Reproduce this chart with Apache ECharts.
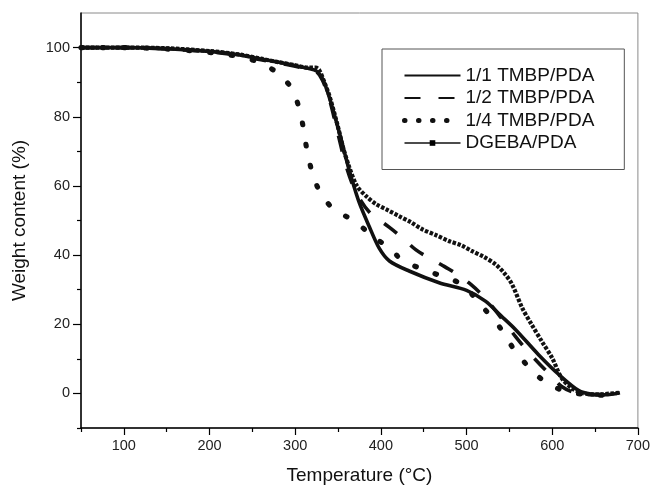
<!DOCTYPE html>
<html>
<head>
<meta charset="utf-8">
<script src="https://cdn.jsdelivr.net/npm/echarts@6/dist/echarts.min.js"></script>
<style>
html,body{margin:0;padding:0;background:#fff;}
#c{width:653px;height:491px;}
</style>
</head>
<body>
<div id="c"></div>
<script>
// ---- data ----
const seriesNames = ['1/1 TMBP/PDA', '1/2 TMBP/PDA', '1/4 TMBP/PDA', 'DGEBA/PDA'];

const temp11 = [50,100,150,200,235,260,280,300,315,325,332,340,352,359,366,375,386,398,410,433,468,500,522,540,557,584,608,631,645,662,679];
const wt11   = [100,100,99.7,98.9,97.9,96.7,95.8,94.8,94,93.2,91,85.5,75,68.3,62,55,48.5,42,38.3,35.4,32,29.8,26.7,22.5,18.5,11.2,5.4,0.8,-0.2,-0.4,0.2];

const temp12 = [50,100,150,200,235,260,280,300,315,325,332,340,350,358,366,376,388,400,410,425,441,456,472,490,505,520,540,557,572,586,600,611,625,640,660,678];
const wt12   = [100,100,99.6,98.8,97.7,96.5,95.6,94.6,93.8,93,90.5,85,75,67,61,56,52,49.8,48,45,41.5,39.2,37,34.3,31.5,28,22,16.5,12,8.3,4.8,2,0.3,-0.3,-0.4,0.1];

const temp14 = [50,100,150,200,235,258,278,295,305,310,314,320,330,347,368,390,410,426,448,470,491,505,520,538,553,570,588,603,620,640,660,678];
const wt14   = [100,100,99.6,98.6,97.4,95.7,92.9,88.5,82.2,76,70,63.8,57.7,52.8,50.1,45.5,42,38.3,36,34,32,29,24.7,19.4,13.6,8.3,4,1.8,0.3,-0.3,-0.5,0];

const tempDG = [50,100,150,200,235,260,280,300,315,324,328,334,340,350,356,363,372,383,394,408,421,435,448,464,480,494,506,520,534,544,553,565,576,588,600,611,623,634,646,660,678];
const wtDG   = [100,100,99.8,99,98,96.8,95.8,94.9,94.2,94.2,93.5,90,86,77,71,65.5,60,57,54.8,53,51.3,49.5,47.5,45.8,44,42.8,41.2,39.5,37.3,34.8,31.6,24.7,19.9,15,10.2,4.4,1.5,0.2,-0.3,-0.2,0.2];

const xMajorTicks = [100,200,300,400,500,600,700];
const xMinorTicks = [50,150,250,350,450,550,650];
const yMajorTicks = [0,20,40,60,80,100];
const yMinorTicks = [-10,10,30,50,70,90];

const FONT = '"Liberation Sans", Arial, Helvetica, sans-serif';
const pairs = (xs, ys) => xs.map((x, i) => [x, ys[i]]);

const chart = echarts.init(document.getElementById('c'), null, {renderer: 'canvas'});

const option = {
  animation: false,
  backgroundColor: '#fff',
  textStyle: {fontFamily: FONT},
  grid: {left: 81, right: 14, top: 13, bottom: 63, show: true, borderColor: '#8a8a8a', borderWidth: 1},
  xAxis: [{
    type: 'value', min: 50, max: 700,
    name: 'Temperature (°C)', nameLocation: 'middle', nameGap: 38,
    nameTextStyle: {fontSize: 19, color: '#111', fontFamily: FONT},
    axisLine: {show: true, onZero: false, lineStyle: {color: '#000', width: 1.5}},
    axisTick: {show: true, inside: false, length: 7, lineStyle: {color: '#000', width: 1.2}, customValues: xMajorTicks},
    axisLabel: {show: true, margin: 10, fontSize: 14.5, color: '#222', fontFamily: FONT, customValues: xMajorTicks},
    splitLine: {show: false}
  }, {
    type: 'value', min: 50, max: 700, position: 'bottom',
    axisLine: {show: false, onZero: false},
    axisTick: {show: true, inside: false, length: 4, lineStyle: {color: '#000', width: 1.2}, customValues: xMinorTicks},
    axisLabel: {show: false},
    splitLine: {show: false}
  }],
  yAxis: [{
    type: 'value', min: -10, max: 110,
    name: 'Weight content (%)', nameLocation: 'middle', nameGap: 52, nameRotate: 90,
    nameTextStyle: {fontSize: 19, color: '#111', fontFamily: FONT},
    axisLine: {show: true, onZero: false, lineStyle: {color: '#000', width: 1.5}},
    axisTick: {show: true, inside: false, length: 8, lineStyle: {color: '#000', width: 1.2}, customValues: yMajorTicks},
    axisLabel: {show: true, margin: 11, fontSize: 14.5, color: '#222', fontFamily: FONT, customValues: yMajorTicks},
    splitLine: {show: false}
  }, {
    type: 'value', min: -10, max: 110, position: 'left',
    axisLine: {show: false, onZero: false},
    axisTick: {show: true, inside: false, length: 4, lineStyle: {color: '#000', width: 1.2}, customValues: yMinorTicks},
    axisLabel: {show: false},
    splitLine: {show: false}
  }],
  legend: {
    orient: 'vertical', left: 382, top: 49,
    padding: [17, 30, 17, 20],
    itemWidth: 56, itemHeight: 7, itemGap: 3.5,
    borderColor: '#555', borderWidth: 1, backgroundColor: '#fff',
    textStyle: {fontSize: 19, color: '#111', fontFamily: FONT, lineHeight: 19},
    data: [
      {name: seriesNames[0], itemStyle: {opacity: 0}},
      {name: seriesNames[1], itemStyle: {opacity: 0}},
      {name: seriesNames[2], itemStyle: {opacity: 0}, lineStyle: {width: 5, type: [0.5, 13.5], cap: 'round'}},
      {name: seriesNames[3], itemStyle: {color: '#000', opacity: 1}, lineStyle: {width: 1.3, type: 'solid', cap: 'butt'}}
    ]
  },
  series: [
    {
      name: seriesNames[3], type: 'line', data: pairs(tempDG, wtDG),
      symbol: 'rect', symbolSize: 5, showSymbol: false, smooth: 0.3, z: 2,
      itemStyle: {color: '#000'},
      lineStyle: {color: '#111', width: 4.2, type: [3.4, 1.6], cap: 'butt'}
    },
    {
      name: seriesNames[2], type: 'line', data: pairs(temp14, wt14),
      symbol: 'none', smooth: 0.3, z: 3,
      itemStyle: {color: '#000'},
      lineStyle: {color: '#111', width: 5.2, type: [1.5, 20], cap: 'round'}
    },
    {
      name: seriesNames[1], type: 'line', data: pairs(temp12, wt12),
      symbol: 'none', smooth: 0.3, z: 4,
      itemStyle: {color: '#000'},
      lineStyle: {color: '#111', width: 3.6, type: [16, 18], cap: 'butt'}
    },
    {
      name: seriesNames[0], type: 'line', data: pairs(temp11, wt11),
      symbol: 'none', smooth: 0.3, z: 5,
      itemStyle: {color: '#000'},
      lineStyle: {color: '#111', width: 3.6, type: 'solid'}
    }
  ]
};
chart.setOption(option);
</script>
</body>
</html>
